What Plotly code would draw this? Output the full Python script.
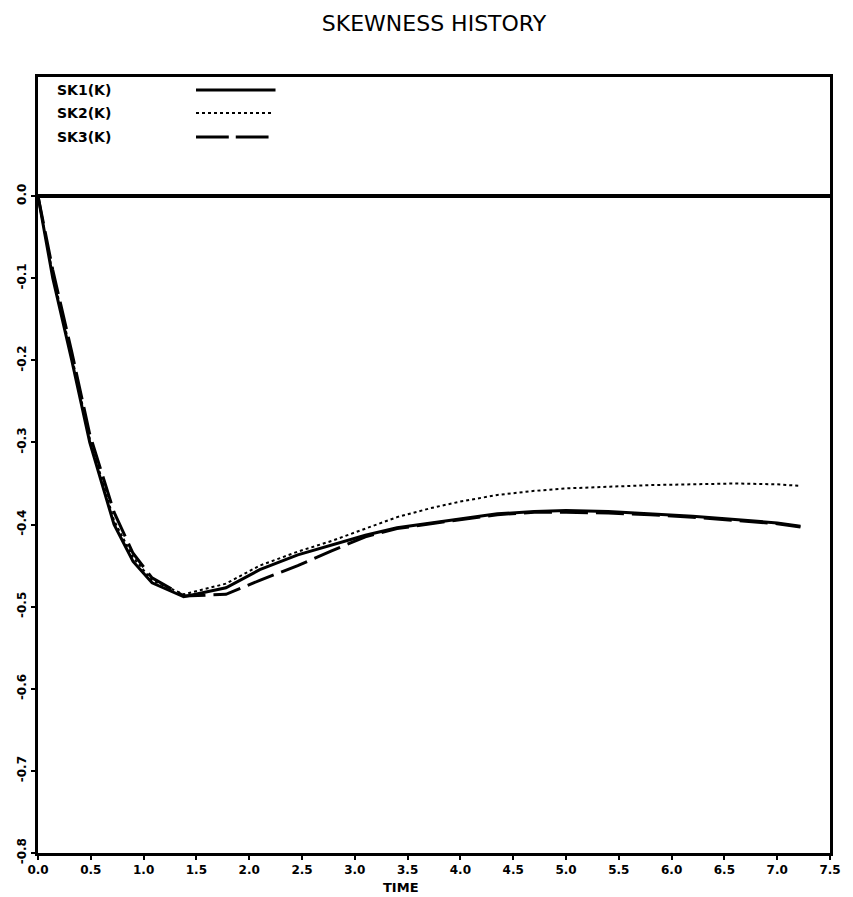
import plotly.graph_objects as go

# Sample times and the three skewness histories
time = [0.0, 0.14, 0.32, 0.49, 0.72, 0.90, 1.08, 1.38, 1.78, 2.10, 2.46, 2.78,
        3.10, 3.40, 3.72, 4.00, 4.35, 4.70, 5.00, 5.40, 5.80, 6.20, 6.60, 7.00, 7.22]
sk1 = [0.0, -0.100, -0.200, -0.300, -0.400, -0.445, -0.471, -0.488, -0.477, -0.455,
       -0.437, -0.425, -0.413, -0.404, -0.398, -0.393, -0.387, -0.384, -0.383, -0.384,
       -0.387, -0.390, -0.394, -0.398, -0.402]
sk2 = [0.0, -0.095, -0.195, -0.295, -0.395, -0.440, -0.468, -0.485, -0.472, -0.450,
       -0.433, -0.420, -0.405, -0.391, -0.380, -0.372, -0.364, -0.359, -0.356, -0.354,
       -0.352, -0.351, -0.350, -0.351, -0.353]
sk3 = [0.0, -0.090, -0.190, -0.290, -0.385, -0.435, -0.465, -0.487, -0.485, -0.468,
       -0.450, -0.432, -0.415, -0.405, -0.399, -0.394, -0.388, -0.385, -0.385, -0.386,
       -0.388, -0.391, -0.395, -0.399, -0.403]

x_ticks = [0.0, 0.5, 1.0, 1.5, 2.0, 2.5, 3.0, 3.5, 4.0, 4.5, 5.0, 5.5, 6.0, 6.5, 7.0, 7.5]
x_labels = ["0.0", "0.5", "1.0", "1.5", "2.0", "2.5", "3.0", "3.5", "4.0", "4.5",
            "5.0", "5.5", "6.0", "6.5", "7.0", "7.5"]
y_ticks = [0.0, -0.1, -0.2, -0.3, -0.4, -0.5, -0.6, -0.7, -0.8]
y_labels = ["0.0", "-0.1", "-0.2", "-0.3", "-0.4", "-0.5", "-0.6", "-0.7", "-0.8"]

series_names = ["SK1(K)", "SK2(K)", "SK3(K)"]

INK = "black"
FONT = "DejaVu Sans"
LONG_DASH = "28px,8px"

fig = go.Figure()
fig.add_trace(go.Scatter(x=time, y=sk1, mode="lines", name=series_names[0],
                         line=dict(color=INK, width=3, dash="solid")))
fig.add_trace(go.Scatter(x=time, y=sk2, mode="lines", name=series_names[1],
                         line=dict(color=INK, width=2, dash="dot")))
fig.add_trace(go.Scatter(x=time, y=sk3, mode="lines", name=series_names[2],
                         line=dict(color=INK, width=3, dash=LONG_DASH)))

# Heavy zero reference line across the frame
fig.add_shape(type="line", xref="paper", yref="y", x0=0, x1=1, y0=0, y1=0,
              line=dict(color=INK, width=4))

# Key in the upper band of the frame: label on the left, line sample on the right
rows_y = [0.9832, 0.9536, 0.9227]
for name, yy in zip(series_names, rows_y):
    fig.add_annotation(text=name, xref="paper", yref="paper", x=0.0213, y=yy,
                       xanchor="left", yanchor="middle", showarrow=False,
                       font=dict(family=FONT, size=14, color=INK, weight="bold"))
fig.add_shape(type="line", xref="paper", yref="paper", x0=0.1995, x1=0.2999,
              y0=rows_y[0], y1=rows_y[0], line=dict(color=INK, width=3))
fig.add_shape(type="line", xref="paper", yref="paper", x0=0.1995, x1=0.2974,
              y0=rows_y[1], y1=rows_y[1], line=dict(color=INK, width=2, dash="dot"))
fig.add_shape(type="line", xref="paper", yref="paper", x0=0.1995, x1=0.2409,
              y0=rows_y[2], y1=rows_y[2], line=dict(color=INK, width=3))
fig.add_shape(type="line", xref="paper", yref="paper", x0=0.2497, x1=0.2911,
              y0=rows_y[2], y1=rows_y[2], line=dict(color=INK, width=3))

fig.add_annotation(text="TIME", xref="paper", yref="paper", x=0.458, y=-0.045,
                   xanchor="center", yanchor="middle", showarrow=False,
                   font=dict(family=FONT, size=13, color=INK, weight="bold"))

fig.update_layout(
    width=853, height=897,
    margin=dict(l=38, r=18, t=77, b=44),
    paper_bgcolor="white", plot_bgcolor="white",
    showlegend=False,
    title=dict(text="SKEWNESS HISTORY", x=0.5, xref="paper", xanchor="center",
               y=1 - 23 / 897, yref="container", yanchor="middle",
               font=dict(family=FONT, size=22, color=INK)),
)
fig.update_xaxes(range=[0, 7.5], tickvals=x_ticks, ticktext=x_labels,
                 showgrid=False, zeroline=False,
                 showline=True, linecolor=INK, linewidth=3, mirror=True,
                 ticks="outside", ticklen=4, tickwidth=2, tickcolor=INK,
                 tickfont=dict(family=FONT, size=12, color=INK, weight="bold"))
fig.update_yaxes(range=[-0.8, 0.145], tickvals=y_ticks, ticktext=y_labels,
                 showgrid=False, zeroline=False,
                 showline=True, linecolor=INK, linewidth=3, mirror=True,
                 ticks="outside", ticklen=4, tickwidth=2, tickcolor=INK,
                 tickangle=-90,
                 tickfont=dict(family=FONT, size=12, color=INK, weight="bold"))

fig.write_html("out.html")
